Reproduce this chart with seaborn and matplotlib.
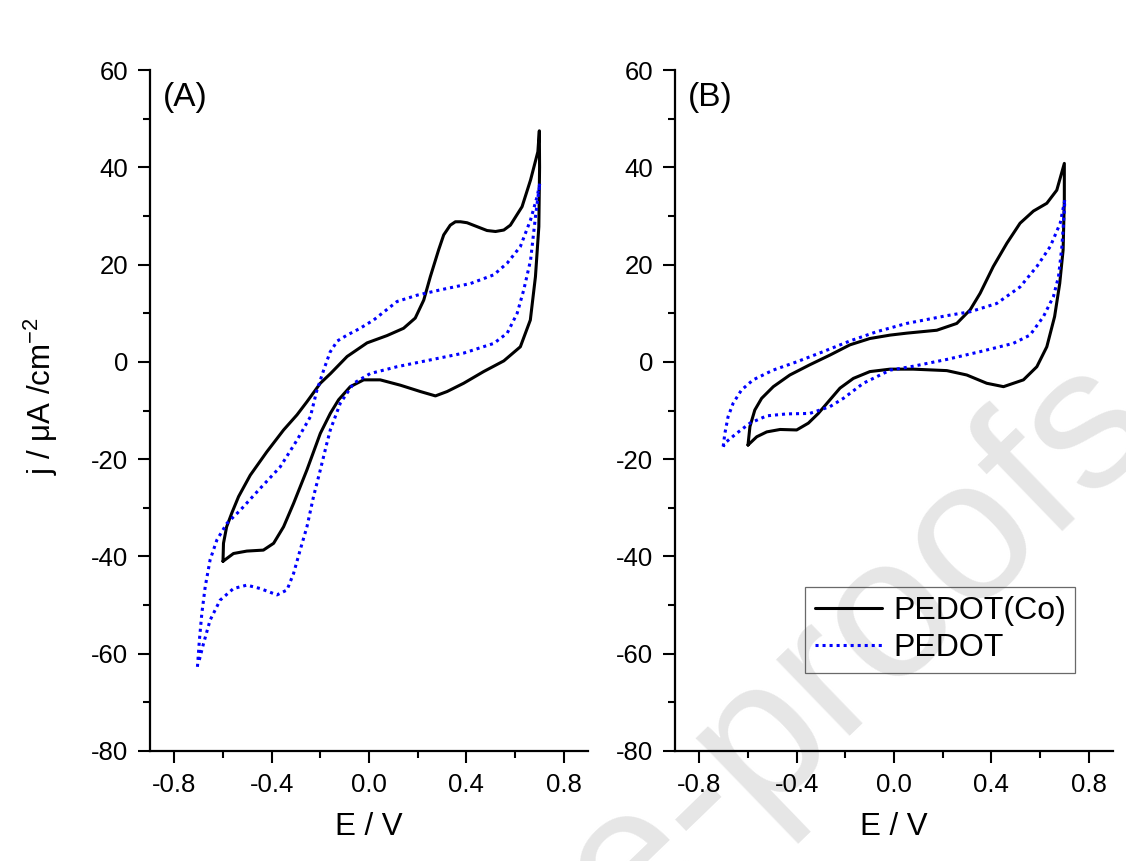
import matplotlib
matplotlib.use("Agg")
import matplotlib.pyplot as plt
from matplotlib.ticker import MultipleLocator, FormatStrFormatter
import numpy as np
import pandas as pd
import seaborn as sns

# ---------------- data ----------------
series_names = ["PEDOT(Co)", "PEDOT"]
panel_labels = ["(A)", "(B)"]
x_label = "E / V"
y_label = "j / \u03bcA /cm$^{\\mathregular{\u22122}}$"
watermark = "Journal Pre-proofs"

# Panel A, PEDOT(Co): anodic branch then cathodic branch
a_co_E = [-0.600, -0.598, -0.585, -0.564, -0.536, -0.488, -0.420, -0.351, -0.296, -0.255,
          -0.200, -0.158, -0.090, -0.008, 0.074, 0.142, 0.190, 0.225, 0.252, 0.286,
          0.307, 0.334, 0.355, 0.376, 0.403, 0.444, 0.485, 0.520, 0.554, 0.581,
          0.629, 0.664, 0.694, 0.700,
          0.701, 0.698, 0.684, 0.663, 0.622, 0.554, 0.471, 0.389, 0.321, 0.273,
          0.211, 0.129, 0.046, -0.022, -0.077, -0.125, -0.159, -0.200, -0.255, -0.310,
          -0.351, -0.392, -0.434, -0.502, -0.557, -0.600]
a_co_j = [-41.0, -37.3, -33.9, -31.1, -27.7, -23.3, -18.5, -14.0, -10.9, -8.2,
          -4.4, -2.4, 1.1, 3.9, 5.4, 6.9, 9.0, 12.7, 17.5, 23.0,
          26.1, 28.1, 28.8, 28.8, 28.6, 27.8, 27.0, 26.8, 27.1, 28.1,
          31.9, 37.4, 43.2, 47.5,
          40.0, 27.8, 17.5, 8.6, 3.1, 0.2, -2.0, -4.4, -6.1, -7.0,
          -6.1, -4.8, -3.7, -3.7, -5.1, -7.8, -10.6, -14.7, -22.2, -29.1,
          -33.9, -37.3, -38.7, -38.9, -39.4, -41.0]

# Panel A, PEDOT
a_pe_E = [-0.705, -0.697, -0.687, -0.673, -0.653, -0.625, -0.584, -0.529, -0.447, -0.365,
          -0.296, -0.241, -0.215, -0.185, -0.160, -0.130, -0.090, -0.040, 0.019, 0.115,
          0.197, 0.293, 0.417, 0.513, 0.568, 0.622, 0.664, 0.691, 0.702,
          0.698, 0.684, 0.664, 0.636, 0.609, 0.568, 0.513, 0.389, 0.252, 0.115,
          0.005, -0.063, -0.118, -0.159, -0.173, -0.200, -0.228, -0.255, -0.283, -0.310,
          -0.337, -0.378, -0.447, -0.502, -0.557, -0.612, -0.653, -0.680, -0.701]
a_pe_j = [-62.7, -57.2, -51.7, -46.2, -40.7, -36.6, -33.2, -30.5, -26.0, -21.6,
          -16.1, -11.3, -6.0, -1.5, 2.0, 4.3, 5.5, 6.8, 8.6, 12.4,
          13.7, 14.8, 16.1, 17.9, 20.3, 23.7, 29.2, 34.0, 36.7,
          35.3, 29.8, 20.9, 14.8, 10.0, 5.9, 3.8, 1.8, 0.4, -1.0,
          -2.4, -4.4, -8.5, -14.0, -16.7, -22.2, -27.7, -33.9, -38.7, -43.5,
          -46.9, -47.9, -46.6, -45.9, -46.6, -49.0, -53.1, -57.9, -62.0]

# Panel B, PEDOT(Co)
b_co_E = [-0.600, -0.592, -0.572, -0.544, -0.496, -0.428, -0.346, -0.263, -0.181, -0.099,
          -0.016, 0.052, 0.176, 0.258, 0.313, 0.354, 0.408, 0.464, 0.518, 0.573,
          0.628, 0.669, 0.700,
          0.700, 0.695, 0.681, 0.660, 0.628, 0.587, 0.532, 0.450, 0.381, 0.299,
          0.217, 0.079, -0.016, -0.099, -0.167, -0.222, -0.270, -0.311, -0.352, -0.400,
          -0.468, -0.523, -0.564, -0.600]
b_co_j = [-17.1, -13.3, -9.9, -7.5, -5.1, -2.7, -0.6, 1.4, 3.5, 4.8,
          5.5, 5.9, 6.5, 7.9, 10.7, 14.1, 19.6, 24.4, 28.5, 31.0,
          32.6, 35.3, 40.8,
          33.3, 23.0, 16.1, 9.3, 3.1, -1.0, -3.7, -5.1, -4.4, -2.7,
          -1.8, -1.5, -1.5, -2.0, -3.4, -5.4, -8.2, -10.6, -12.6, -14.0,
          -13.9, -14.4, -15.4, -17.1]

# Panel B, PEDOT
b_pe_E = [-0.702, -0.695, -0.682, -0.661, -0.627, -0.579, -0.497, -0.400, -0.291, -0.181,
          -0.071, 0.052, 0.217, 0.313, 0.422, 0.518, 0.587, 0.642, 0.683, 0.702,
          0.700, 0.690, 0.676, 0.655, 0.614, 0.559, 0.490, 0.354, 0.217, 0.079,
          -0.016, -0.126, -0.208, -0.263, -0.346, -0.441, -0.523, -0.592, -0.647, -0.688,
          -0.702]
b_pe_j = [-17.4, -14.7, -11.3, -8.5, -5.8, -3.7, -1.7, 0.0, 2.1, 4.3,
          6.2, 7.9, 9.5, 10.3, 12.0, 15.4, 19.6, 23.7, 28.5, 33.3,
          31.2, 23.7, 17.5, 13.4, 9.3, 5.5, 3.8, 2.1, 0.5, -0.9,
          -1.7, -4.4, -7.5, -9.2, -10.6, -10.7, -11.1, -12.6, -14.7, -16.4,
          -17.4]

# ---------------- tidy frame ----------------
rows = []
for panel, name, E, j in [
    ("A", series_names[0], a_co_E, a_co_j),
    ("A", series_names[1], a_pe_E, a_pe_j),
    ("B", series_names[0], b_co_E, b_co_j),
    ("B", series_names[1], b_pe_E, b_pe_j),
]:
    for k, (e, c) in enumerate(zip(E, j)):
        rows.append({"panel": panel, "sample": name, "order": k, "E": e, "j": c})
df = pd.DataFrame(rows)

# ---------------- style ----------------
sns.set_theme(style="ticks")
plt.rcParams["font.family"] = ["Liberation Sans", "DejaVu Sans"]
plt.rcParams["mathtext.fontset"] = "custom"
plt.rcParams["mathtext.rm"] = "Liberation Sans"
plt.rcParams["mathtext.it"] = "Liberation Sans:italic"
plt.rcParams["axes.unicode_minus"] = False
for key in ["text.color", "axes.labelcolor", "xtick.color", "ytick.color", "axes.edgecolor"]:
    plt.rcParams[key] = "black"

styles = {
    series_names[0]: dict(color="black", linewidth=2.2, linestyle="-"),
    series_names[1]: dict(color="#0000FF", linewidth=2.2, linestyle=(0, (1, 1.3))),
}

fig = plt.figure(figsize=(11.26, 8.61), dpi=100)
fig.patch.set_facecolor("white")

W, H = 1126, 861
ax_h = 681 / H
ax_w = 438 / W
ax_b = 1 - 751 / H
axA = fig.add_axes([150 / W, ax_b, ax_w, ax_h])
axB = fig.add_axes([675 / W, ax_b, ax_w, ax_h])

# faint watermark of the source page
fig.text(1163 / W, 1 - 434 / H, watermark, ha="right", va="baseline",
         rotation=44, rotation_mode="anchor", fontsize=145, color="#e6e6e6",
         zorder=-5)

for ax, panel, plabel in [(axA, "A", panel_labels[0]), (axB, "B", panel_labels[1])]:
    ax.set_facecolor("none")
    for name in series_names:
        sub = df[(df.panel == panel) & (df["sample"] == name)].sort_values("order")
        sns.lineplot(data=sub, x="E", y="j", sort=False, estimator=None, ax=ax,
                     label=name, legend=False, **styles[name])
    ax.set_xlim(-0.9, 0.9)
    ax.set_ylim(-80, 60)
    ax.xaxis.set_major_locator(MultipleLocator(0.4))
    ax.xaxis.set_minor_locator(MultipleLocator(0.2))
    ax.yaxis.set_major_locator(MultipleLocator(20))
    ax.yaxis.set_minor_locator(MultipleLocator(10))
    ax.xaxis.set_major_formatter(FormatStrFormatter("%.1f"))
    ax.yaxis.set_major_formatter(FormatStrFormatter("%d"))
    for s in ["top", "right"]:
        ax.spines[s].set_visible(False)
    for s in ["left", "bottom"]:
        ax.spines[s].set_linewidth(1.6)
        ax.spines[s].set_color("black")
    ax.tick_params(which="major", direction="out", length=8.5, width=1.5,
                   labelsize=18.5, pad=7, colors="black")
    ax.tick_params(which="minor", direction="out", length=5, width=1.5, colors="black")
    ax.set_xlabel(x_label, fontsize=22.5, labelpad=11)
    ax.set_ylabel("")
    ax.text(0.03, 0.982, plabel, transform=ax.transAxes, ha="left", va="top",
            fontsize=24)

axA.set_ylabel(y_label, fontsize=22.5)
axA.yaxis.set_label_coords(-0.206, 0.521)

handles = axB.lines[:2]
leg = axB.legend(handles=handles, labels=series_names, loc="upper left",
                 bbox_to_anchor=(0.297, 0.241), borderaxespad=0, fontsize=23,
                 frameon=True, fancybox=False, facecolor="none", edgecolor="#444444",
                 handlelength=2.1, handletextpad=0.35, labelspacing=0.22,
                 borderpad=0.3)
leg.get_frame().set_linewidth(0.9)

fig.savefig("out.png", dpi=100, facecolor="white")
